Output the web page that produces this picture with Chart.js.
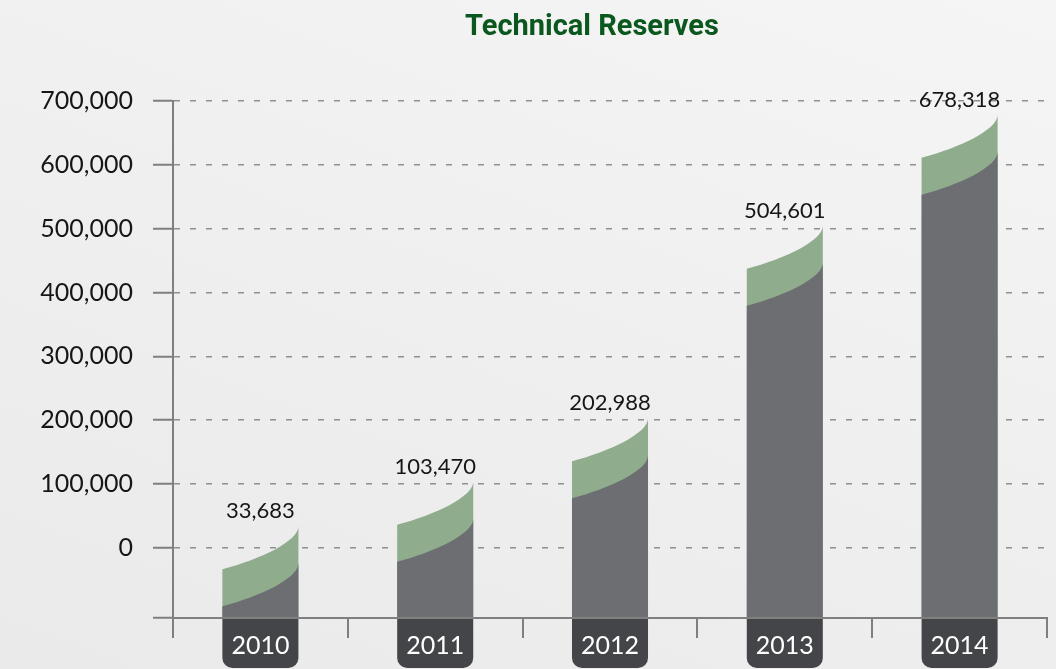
<!DOCTYPE html>
<html>
<head>
<meta charset="utf-8">
<script src="https://cdn.jsdelivr.net/npm/chart.js@4/dist/chart.umd.min.js"></script>
<style>
  body { margin: 0; }
  #wrap {
    position: relative;
    width: 1056px;
    height: 669px;
    overflow: hidden;
    background: linear-gradient(200deg, #f5f5f5 0%, #efefef 50%, #eaeaea 100%);
  }
  #title {
    position: absolute;
    left: 392px;
    width: 400px;
    top: 8px;
    text-align: center;
    font: bold 29px "Liberation Sans Narrow", "Roboto", sans-serif;
    color: #0b581f;
  }
</style>
</head>
<body>
<div id="wrap">
  <div id="title">Technical Reserves</div>
  <canvas id="myChart"></canvas>
</div>
<script>
// data
const years = ["2010", "2011", "2012", "2013", "2014"];
const reserves = [33683, 103470, 202988, 504601, 678318];
const yTicks = [-110000, 0, 100000, 200000, 300000, 400000, 500000, 600000, 700000];
const yMin = -110000;
const yMax = 700000;

const green = "#8fac8c";
const gray = "#6d6e72";
const dark = "#444549";

// dark year boxes under the bars (drawn before the axes so the labels go on top)
const yearBoxes = {
  id: "yearBoxes",
  beforeDraw: (chart) => {
    const ctx = chart.ctx;
    const bottom = chart.chartArea.bottom;
    chart.getDatasetMeta(0).data.forEach((bar) => {
      const l = bar.x - bar.width / 2;
      ctx.save();
      ctx.fillStyle = dark;
      ctx.beginPath();
      ctx.roundRect(l, bottom, bar.width, 50, [0, 0, 10, 10]);
      ctx.fill();
      ctx.restore();
    });
  },
};

// curved top bars + value labels
const curvedBars = {
  id: "curvedBars",
  afterDatasetsDraw: (chart) => {
    const ctx = chart.ctx;
    const meta = chart.getDatasetMeta(0);
    meta.data.forEach((bar, i) => {
      const w = bar.width;
      const L = bar.x - w / 2;
      const R = bar.x + w / 2;
      const T = bar.y;
      const B = bar.base;
      const shape = (off, color) => {
        ctx.fillStyle = color;
        ctx.beginPath();
        ctx.moveTo(L, B);
        ctx.lineTo(L, T + 43 + off);
        ctx.bezierCurveTo(L + 0.5 * w, T + 33 + off, R, T + 15 + off, R, T + off);
        ctx.lineTo(R, B);
        ctx.closePath();
        ctx.fill();
      };
      ctx.save();
      shape(0, green);
      shape(37, gray);
      ctx.fillStyle = "#161616";
      ctx.font = '22px "Lato", sans-serif';
      ctx.textAlign = "center";
      ctx.textBaseline = "alphabetic";
      ctx.fillText(reserves[i].toLocaleString("en-US"), bar.x, T - 8);
      ctx.restore();
    });
  },
};

const showChart = () => {
  const ctx = document.getElementById("myChart").getContext("2d");
  const dataChart = {
    labels: years,
    datasets: [
      {
        label: "Technical Reserves",
        data: reserves,
        base: yMin,
        backgroundColor: "rgba(0,0,0,0)",
        borderWidth: 0,
        categoryPercentage: 1,
        barPercentage: 0.435,
      },
    ],
  };
  const config = {
    type: "bar",
    data: dataChart,
    options: {
      responsive: true,
      maintainAspectRatio: false,
      animation: false,
      layout: { padding: { top: 101, right: 9, bottom: 0, left: 0 } },
      plugins: {
        legend: { display: false },
        tooltip: { enabled: false },
      },
      scales: {
        x: {
          grid: {
            offset: true,
            drawOnChartArea: false,
            drawTicks: true,
            tickLength: 20,
            color: "#7f7f7f",
            lineWidth: 2,
          },
          border: { display: true, color: "#7f7f7f", width: 2 },
          ticks: {
            color: "#ffffff",
            font: { family: "Lato", size: 25 },
            padding: -7,
          },
          afterFit: (axis) => {
            axis.height = 51;
          },
        },
        y: {
          min: yMin,
          max: yMax,
          afterBuildTicks: (axis) => {
            axis.ticks = yTicks.map((v) => ({ value: v }));
          },
          afterFit: (axis) => {
            axis.width = 173;
          },
          grid: {
            color: "#8f8f8f",
            lineWidth: 1.5,
            tickLength: 20,
            tickColor: "#7f7f7f",
            tickWidth: 2,
          },
          border: { display: true, color: "#7f7f7f", width: 2, dash: [6, 10], dashOffset: 0 },
          ticks: {
            color: "#161616",
            font: { family: "Lato", size: 25 },
            padding: 20,
            callback: (v) => (v < 0 ? "" : v.toLocaleString("en-US")),
          },
        },
      },
    },
    plugins: [yearBoxes, curvedBars],
  };
  const myChart = new Chart(ctx, config);
};
showChart();
</script>
</body>
</html>
